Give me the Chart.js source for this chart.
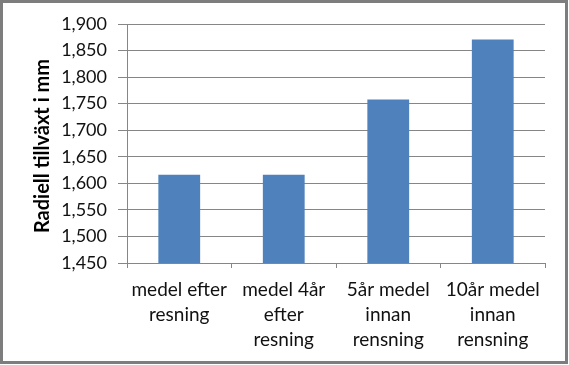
<!DOCTYPE html>
<html>
<head>
<meta charset="utf-8">
<script src="https://cdn.jsdelivr.net/npm/chart.js@4"></script>
<style>
html,body{margin:0;padding:0;background:#fff;}
#wrap{position:relative;width:569px;height:365px;}
#c{position:absolute;left:0;top:0;}
#frame{position:absolute;left:0;top:0;width:568px;height:364px;box-sizing:border-box;border:3px solid #7d7d7d;pointer-events:none;}
</style>
</head>
<body>
<div id="wrap">
<canvas id="c" width="569" height="365"></canvas>
<div id="frame"></div>
</div>
<script>
const categories = [
  ["medel efter", "resning"],
  ["medel 4år", "efter", "resning"],
  ["5år medel", "innan", "rensning"],
  ["10år medel", "innan", "rensning"]
];
const values = [1.616, 1.616, 1.758, 1.871];
const yMin = 1.45, yMax = 1.9, yStep = 0.05;
const yTitle = "Radiell tillväxt i mm";

const FONT = "Lato, 'Liberation Sans', sans-serif";

const yTitlePlugin = {
  id: 'yTitle',
  afterDraw(chart) {
    const ctx = chart.ctx;
    ctx.save();
    ctx.translate(43, 146);
    ctx.rotate(-Math.PI / 2);
    ctx.font = "bold 20px " + FONT;
    ctx.fillStyle = "#000";
    ctx.textAlign = "center";
    ctx.textBaseline = "middle";
    ctx.fillText(yTitle, 0, 0);
    ctx.restore();
  }
};

new Chart(document.getElementById('c'), {
  type: 'bar',
  data: {
    labels: categories,
    datasets: [{
      data: values,
      backgroundColor: '#4F81BD',
      borderWidth: 0,
      barPercentage: 0.4,
      categoryPercentage: 1.0
    }]
  },
  options: {
    responsive: false,
    animation: false,
    layout: { padding: { left: 0, top: 24, right: 24, bottom: 0 } },
    plugins: { legend: { display: false }, tooltip: { enabled: false } },
    scales: {
      x: {
        offset: true,
        grid: { display: true, drawOnChartArea: false, drawTicks: true, tickLength: 5, color: '#868686', offset: true },
        border: { display: true, color: '#868686', width: 1 },
        ticks: { color: '#111', font: { family: FONT, size: 19, lineHeight: 25 / 19 }, padding: 9, maxRotation: 0, autoSkip: false },
        afterFit(s) { s.height = 102; }
      },
      y: {
        min: yMin, max: yMax,
        grid: { color: '#868686', tickLength: 9, lineWidth: 1 },
        border: { display: true, color: '#868686', width: 1 },
        ticks: {
          stepSize: yStep,
          color: '#111',
          padding: 11,
          font: { family: FONT, size: 18 },
          callback: v => v.toFixed(3).replace('.', ',')
        },
        afterFit(s) { s.width = 127; }
      }
    }
  },
  plugins: [yTitlePlugin]
});
</script>
</body>
</html>
